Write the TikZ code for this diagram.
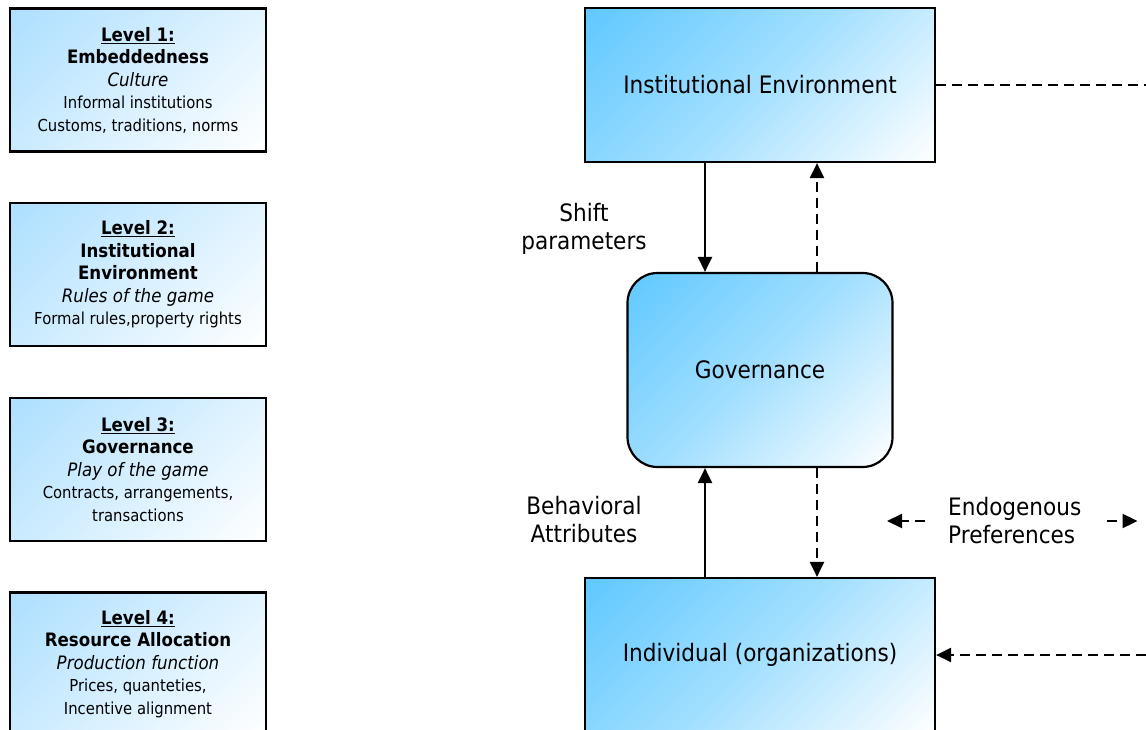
\documentclass[tikz,border=0pt]{standalone}
\usepackage{fontspec}
\setmainfont{DejaVu Sans}[FakeStretch=0.9]
\usetikzlibrary{arrows.meta}

\definecolor{deepsky}{RGB}{95,200,255}
\definecolor{palesky}{RGB}{172,223,255}
\colorlet{midsky}{deepsky!58!white}
\colorlet{midpale}{palesky!50!white}

% linear from corner to corner once turned by 45 degrees
\pgfdeclareverticalshading{blockfill}{100bp}{color(0bp)=(white); color(14.6bp)=(white);
  color(50bp)=(midsky); color(85.4bp)=(deepsky); color(100bp)=(deepsky)}
\pgfdeclareverticalshading{levelfill}{100bp}{color(0bp)=(white); color(14.6bp)=(white);
  color(50bp)=(midpale); color(85.4bp)=(palesky); color(100bp)=(palesky)}

\newcommand{\bigline}{\fontsize{18.5}{22.5}\selectfont}
\newcommand{\smallline}{\fontsize{16.5}{22.5}\selectfont}

\tikzset{
  level/.style={
    rectangle,
    draw,
    line width=2.8pt,
    minimum width=256pt,
    minimum height=143pt,
    inner sep=2pt,
    shade, shading=levelfill, shading angle=45,
    text centered,
    align=center,
    font=\smallline
  },
  block/.style={
    rectangle,
    draw,
    line width=2.2pt,
    minimum width=350pt,
    minimum height=154pt,
    shade, shading=blockfill, shading angle=45,
    font=\fontsize{24}{28}\selectfont
  },
  govblock/.style={
    block,
    rounded corners=30pt,
    minimum width=265pt,
    minimum height=194pt
  },
  lbl/.style={inner sep=0pt, align=center, font=\fontsize{24}{28}\selectfont},
  link/.style={line width=2.2pt, -{Triangle[length=15pt,width=14pt]}},
  dashlink/.style={link, dash pattern=on 10pt off 6pt},
}

\begin{document}
\begin{tikzpicture}[x=1pt, y=-1pt]
  \useasboundingbox (0,0) rectangle (1146,730);

  % the four levels
  \node[level, anchor=center] (lev1) at (138, 80) {%
    {\bigline\bfseries\underline{Level 1:}}\\
    {\bigline\bfseries Embeddedness}\\
    {\bigline\itshape Culture}\\
    Informal institutions\\
    Customs, traditions, norms};
  \node[level, anchor=center] (lev2) at (138, 274.5) {%
    {\bigline\bfseries\underline{Level 2:}}\\
    {\bigline\bfseries Institutional}\\
    {\bigline\bfseries Environment}\\
    {\bigline\itshape Rules of the game}\\
    Formal rules,property rights};
  \node[level, anchor=center] (lev3) at (138, 469.5) {%
    {\bigline\bfseries\underline{Level 3:}}\\
    {\bigline\bfseries Governance}\\
    {\bigline\itshape Play of the game}\\
    Contracts, arrangements,\\
    transactions};
  \node[level, anchor=center] (lev4) at (138, 664) {%
    {\bigline\bfseries\underline{Level 4:}}\\
    {\bigline\bfseries Resource Allocation}\\
    {\bigline\itshape Production function}\\
    Prices, quanteties,\\
    Incentive alignment};

  % the main chain
  \node[block, anchor=center] (ienv) at (760, 85) {Institutional Environment};
  \node[govblock, anchor=center] (gov) at (760, 370) {Governance};
  \node[block, anchor=center] (indiv) at (760, 655) {Individual (organizations)};

  \node[lbl, anchor=center] (shift) at (584, 229) {Shift\\parameters};
  \node[lbl, anchor=center] (behav) at (584, 520) {Behavioral\\Attributes};
  \node[lbl, anchor=west, align=left] (endo) at (948, 521) {Endogenous\\Preferences};

  \coordinate (topend) at (1146, 85);
  \coordinate (botend) at (1146, 655);

  \draw[link] ([xshift=-55pt]ienv.south) -- ([xshift=-55pt]gov.north);
  \draw[dashlink] ([xshift=57pt]gov.north) -- ([xshift=57pt]ienv.south);
  \draw[link] ([xshift=-55pt]indiv.north) -- ([xshift=-55pt]gov.south);
  \draw[dashlink] ([xshift=57pt]gov.south) -- ([xshift=57pt]indiv.north);
  \draw[dashlink, -] (ienv.east) -- (topend);
  \draw[dashlink] (botend) -- (indiv.east);
  \draw[dashlink] ([xshift=-23pt]endo.west) -- ([xshift=-61pt]endo.west);
  \draw[dashlink] ([xshift=25pt]endo.east) -- ([xshift=56pt]endo.east);
\end{tikzpicture}
\end{document}
